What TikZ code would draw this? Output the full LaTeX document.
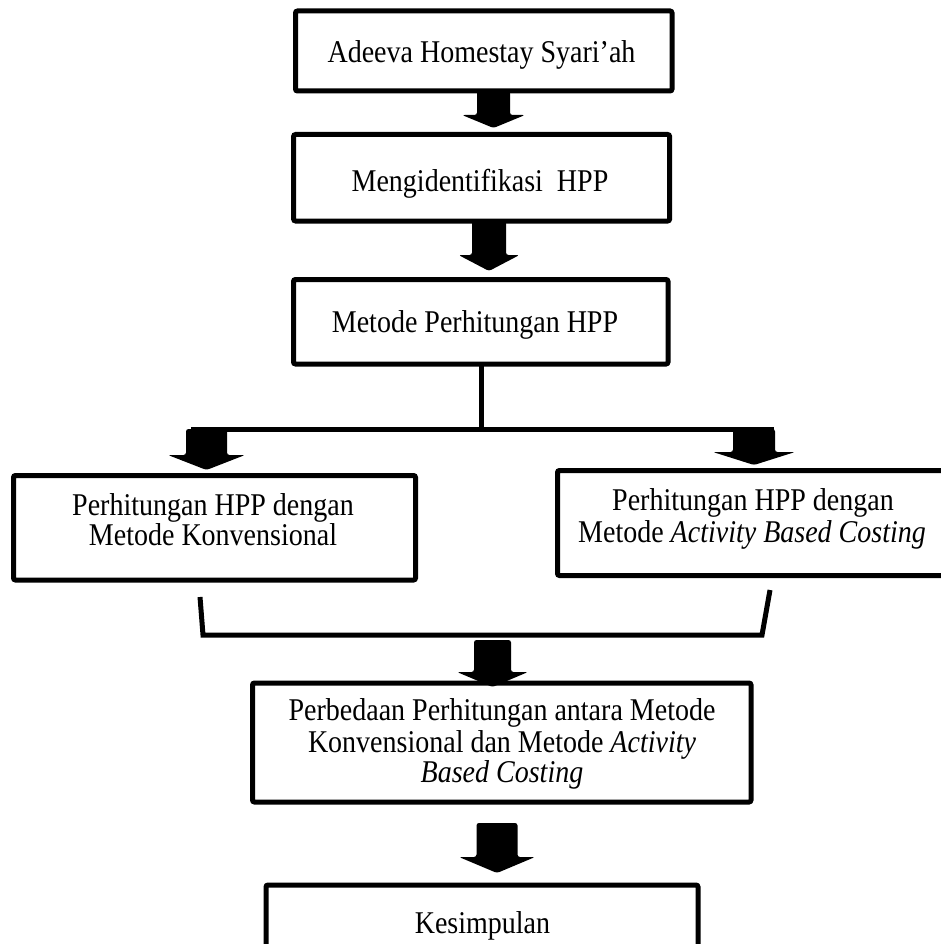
\documentclass[tikz,border=0pt]{standalone}
\usepackage{fontspec}
\usepackage{graphicx}
\setmainfont{Liberation Serif}
\usetikzlibrary{calc}
\newcommand\blockarrow[5]{%
  \fill[rounded corners=2.5pt] let \p1=(#1), \p2=(#2) in
  (\x1-#3pt,\y1) -- (\x1+#3pt,\y1) -- (\x1+#3pt,\y2+#5pt) -- (\x1+#4pt,\y2+#5pt)
  -- (\x1,\y2) -- (\x1-#4pt,\y2+#5pt) -- (\x1-#3pt,\y2+#5pt) -- cycle;}
\newcommand\tall[1]{\scalebox{1}[1.13]{#1}}
\begin{document}
\begin{tikzpicture}[x=1pt,y=-1pt,
  box/.style={draw=black, line width=5pt, rounded corners=2pt, inner sep=0pt, outer sep=0pt, fill=white},
  txt/.style={inner sep=0pt, align=center, font=\fontsize{28pt}{31pt}\selectfont, anchor=base},
  conn/.style={line width=5pt, line join=miter}]
\useasboundingbox (0,0) rectangle (941,944);
\fill[white] (0,0) rectangle (941,944);

% boxes
\node[box, minimum width=376.5pt, minimum height=80pt] (b1) at (483.75,51) {};
\node[box, minimum width=376pt, minimum height=86.5pt] (b2) at (481.6,177.75) {};
\node[box, minimum width=374.5pt, minimum height=84.5pt] (b3) at (480.75,321.75) {};
\node[box, minimum width=402pt, minimum height=104.5pt] (b4) at (214.5,527.75) {};
\node[box, minimum width=392.5pt, minimum height=105pt] (b5) at (753.75,523) {};
\node[box, minimum width=498.5pt, minimum height=119pt] (b6) at (501.75,742.5) {};
\node[box, minimum width=432pt, minimum height=65pt] (b7) at (482,917.5) {};

% texts
\node[txt] (t1) at (481.5,63) {\tall{Adeeva Homestay Syari’ah}};
\node[txt] (t2) at (480,192) {\tall{Mengidentifikasi\ \ HPP}};
\node[txt] (t3) at (475,332) {\tall{Metode Perhitungan HPP}};
\node[txt] (t4a) at (213,515) {\tall{Perhitungan HPP dengan}};
\node[txt] (t4b) at (213,545) {\tall{Metode Konvensional}};
\node[txt] (t5a) at (753,510) {\tall{Perhitungan HPP dengan}};
\node[txt] (t5b) at (752,542) {\tall{Metode \textit{Activity Based Costing}}};
\node[txt] (t6a) at (502,720) {\tall{Perbedaan Perhitungan antara Metode}};
\node[txt] (t6b) at (502,752) {\tall{Konvensional dan Metode \textit{Activity}}};
\node[txt] (t6c) at (502,782) {\tall{\textit{Based Costing}}};
\node[txt] (t7) at (482.5,933) {\tall{Kesimpulan}};

% coordinates for connectors
\coordinate (a1s) at (493.5,91);  \coordinate (a1e) at (493.5,128);
\coordinate (a2s) at (489,221);   \coordinate (a2e) at (489,271);
\coordinate (j0) at (481,364);    \coordinate (j) at (481,429);
\coordinate (hl) at (191,429);    \coordinate (hr) at (774,429);
\coordinate (als) at (206.5,429); \coordinate (ale) at (206.5,470);
\coordinate (ars) at (754,429);   \coordinate (are) at (754,465);
\coordinate (c1) at (200,597);    \coordinate (c2) at (203,635);
\coordinate (c3) at (762,635);    \coordinate (c4) at (770,590);
\coordinate (a4s) at (492.5,640); \coordinate (a4e) at (492.5,687);
\coordinate (a5s) at (497,823);   \coordinate (a5e) at (497,873);

% connectors
\blockarrow{a1s}{a1e}{16.5}{31.5}{13}
\blockarrow{a2s}{a2e}{17}{30.5}{16}
\draw[conn] (j0) -- (j);
\draw[conn] (hl) -- (hr);
\blockarrow{als}{ale}{20.5}{38.5}{15}
\blockarrow{ars}{are}{21}{41}{13}
\draw[conn] (c1) -- (c2) -- (c3) -- (c4);
\blockarrow{a4s}{a4e}{18.5}{35.5}{15}
\blockarrow{a5s}{a5e}{20.5}{38}{16}
\end{tikzpicture}
\end{document}
